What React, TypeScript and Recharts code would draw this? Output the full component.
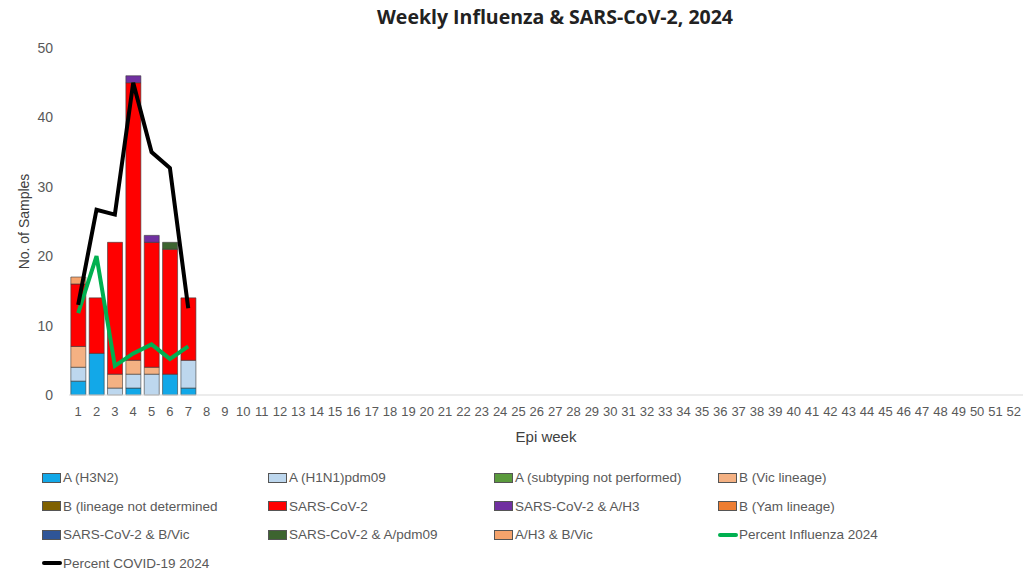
import React from "react";
import {
  ComposedChart, Bar, Line, XAxis, YAxis, Label,
} from "recharts";

const weeks = Array.from({ length: 52 }, (_, i) => String(i + 1));

// counts per week (weeks 1-7 reported, rest empty)
const h3n2 = [2, 6, 0, 1, 0, 3, 1];
const h1n1 = [2, 0, 1, 2, 3, 0, 4];
const aNotSubtyped = [0, 0, 0, 0, 0, 0, 0];
const bVic = [3, 0, 2, 2, 1, 0, 0];
const bNotDetermined = [0, 0, 0, 0, 0, 0, 0];
const sarsCov2 = [9, 8, 19, 40, 18, 18, 9];
const sarsH3 = [0, 0, 0, 1, 1, 0, 0];
const bYam = [0, 0, 0, 0, 0, 0, 0];
const sarsBVic = [0, 0, 0, 0, 0, 0, 0];
const sarsPdm09 = [0, 0, 0, 0, 0, 1, 0];
const h3BVic = [1, 0, 0, 0, 0, 0, 0];
const pctInfluenza = [11.8, 20, 4.2, 6, 7.3, 5.2, 7];
const pctCovid = [13, 26.7, 26, 45, 35, 32.7, 12.5];

const yTicks = [0, 10, 20, 30, 40, 50];

const bars = [
  { key: "h3n2", name: "A (H3N2)", color: "#12a8e8", values: h3n2 },
  { key: "h1n1", name: "A (H1N1)pdm09", color: "#bdd7ee", values: h1n1 },
  { key: "aNs", name: "A (subtyping not performed)", color: "#5a9a3c", values: aNotSubtyped },
  { key: "bVic", name: "B (Vic lineage)", color: "#f4b183", values: bVic },
  { key: "bNd", name: "B (lineage not determined", color: "#7f6000", values: bNotDetermined },
  { key: "sars", name: "SARS-CoV-2", color: "#ff0000", values: sarsCov2 },
  { key: "sarsH3", name: "SARS-CoV-2 & A/H3", color: "#7030a0", values: sarsH3 },
  { key: "bYam", name: "B (Yam lineage)", color: "#ed7d31", values: bYam },
  { key: "sarsBVic", name: "SARS-CoV-2 & B/Vic", color: "#2f5597", values: sarsBVic },
  { key: "sarsPdm", name: "SARS-CoV-2 & A/pdm09", color: "#3d6430", values: sarsPdm09 },
  { key: "h3BVic", name: "A/H3 & B/Vic", color: "#f5a36c", values: h3BVic },
];

const lines = [
  { key: "flu", name: "Percent Influenza 2024", color: "#00b050", values: pctInfluenza },
  { key: "covid", name: "Percent COVID-19 2024", color: "#000000", values: pctCovid },
];

const data = weeks.map((w, i) => {
  const row: Record<string, string | number | null> = { week: w };
  bars.forEach((b) => { row[b.key] = b.values[i] ?? 0; });
  lines.forEach((l) => { row[l.key] = l.values[i] ?? null; });
  return row;
});

const FONT = "'Liberation Sans Narrow', 'Liberation Sans', sans-serif";
const legendItems = [
  ...bars.map((b) => ({ name: b.name, color: b.color, line: false })),
  ...lines.map((l) => ({ name: l.name, color: l.color, line: true })),
];
const colX = [42, 268, 494, 718];

export default function App() {
  return (
    <div style={{ position: "absolute", left: 0, top: 0, width: 1023, height: 579, background: "#fff", fontFamily: FONT }}>
      <div style={{ position: "absolute", top: 3, left: 0, width: 1110, textAlign: "center", fontFamily: "'Open Sans', sans-serif", fontWeight: 700, fontSize: 19.5, color: "#222" }}>
        Weekly Influenza &amp; SARS-CoV-2, 2024
      </div>
      <ComposedChart
        width={1023}
        height={460}
        data={data}
        margin={{ top: 48, right: 0, bottom: 20, left: 0 }}
        barCategoryGap="10%"
      >
        <XAxis
          dataKey="week"
          interval={0}
          height={45}
          tickLine={false}
          axisLine={{ stroke: "#d9d9d9" }}
          tick={{ fill: "#595959", fontSize: 13, fontFamily: FONT }}
          tickMargin={6}
        >
          <Label value="Epi week" position="insideBottom" offset={-2} fill="#404040" fontSize={15} fontFamily={FONT} />
        </XAxis>
        <YAxis
          width={69}
          domain={[0, 50]}
          ticks={yTicks}
          axisLine={false}
          tickLine={false}
          tickMargin={10}
          tick={{ fill: "#595959", fontSize: 14, fontFamily: FONT }}
        >
          <Label value="No. of Samples" angle={-90} position="insideLeft" offset={24} fill="#404040" fontSize={14} fontFamily={FONT} style={{ textAnchor: "middle" }} />
        </YAxis>
        {bars.map((b) => (
          <Bar key={b.key} dataKey={b.key} name={b.name} stackId="s" fill={b.color} stroke="#3a3a3a" strokeWidth={0.6} isAnimationActive={false} />
        ))}
        {lines.map((l) => (
          <Line key={l.key} dataKey={l.key} name={l.name} stroke={l.color} strokeWidth={4} dot={false} type="linear" connectNulls={false} isAnimationActive={false} />
        ))}
      </ComposedChart>
      {legendItems.map((it, i) => {
        const row = Math.floor(i / 4);
        const col = i % 4;
        return (
          <div key={it.name} style={{ position: "absolute", left: colX[col], top: 470 + row * 28.5, display: "flex", alignItems: "center", fontSize: 13.5, color: "#595959", whiteSpace: "nowrap" }}>
            {it.line ? (
              <span style={{ display: "inline-block", width: 20, height: 4, borderRadius: 2, background: it.color, marginRight: 1 }} />
            ) : (
              <span style={{ display: "inline-block", width: 17, height: 8, background: it.color, border: "1px solid #555", marginRight: 2 }} />
            )}
            {it.name}
          </div>
        );
      })}
    </div>
  );
}
